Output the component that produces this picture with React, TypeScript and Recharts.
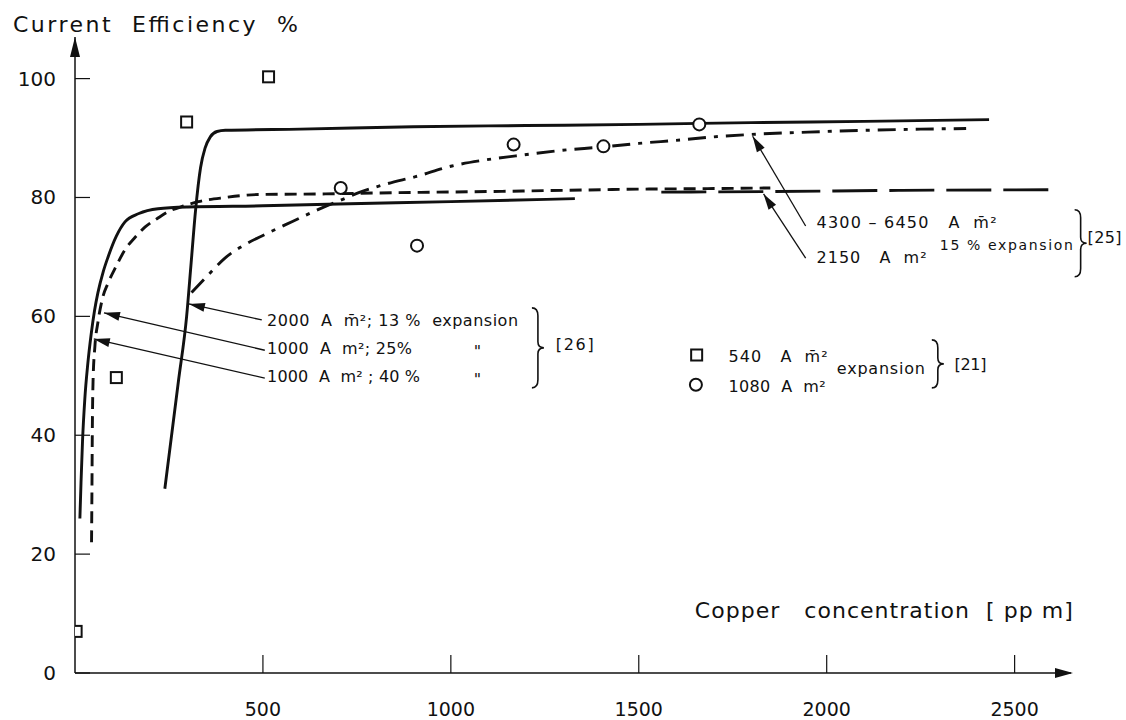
import React from "react";
import {
  ComposedChart,
  Line,
  Scatter,
  XAxis,
  YAxis,
  ReferenceDot,
  ReferenceLine,
} from "recharts";

type Pt = { x: number; y: number };
const pts = (a: number[][]): Pt[] => a.map(([x, y]) => ({ x, y }));

const xTicks = [500, 1000, 1500, 2000, 2500];
const yTicks = [0, 20, 40, 60, 80, 100];

// 1000 A m-2 ; 40 % expansion (solid, left)
const solid1000 = pts([
  [13, 26], [16, 32], [20, 39], [26, 46], [34, 52], [43, 57], [52, 61], [61, 64],
  [75, 67.5], [88, 70], [110, 73.5], [133, 75.9], [170, 77.3], [221, 78.1],
  [300, 78.4], [500, 78.6], [700, 78.9], [1000, 79.3], [1330, 79.8],
]);

// 1000 A m-2 ; 25 % expansion (short dashes)
const dashed1000 = pts([
  [44, 22], [45, 30], [46, 40], [48, 49], [53, 55], [61, 59], [73, 63], [88, 65.6],
  [110, 68.5], [133, 71.2], [160, 73.3], [186, 75], [220, 76.5], [248, 77.6],
  [290, 78.6], [328, 79.3], [400, 80], [488, 80.5], [666, 80.6], [843, 80.8],
  [1100, 81], [1300, 81.2], [1500, 81.4], [1700, 81.5], [1850, 81.6],
]);

// 2000 A m-2 ; 13 % expansion (steep solid)
const solid2000 = pts([
  [239, 31], [257, 40], [275, 49], [297, 60], [309, 69], [321, 78], [334, 85],
  [346, 88.3], [360, 90.2], [378, 91.1], [400, 91.3], [600, 91.5], [900, 91.9],
  [1200, 92.1], [1500, 92.3], [1800, 92.6], [2100, 92.8], [2432, 93.1],
]);

// 4300 - 6450 A m-2 (dash-dot)
const dashDot4300 = pts([
  [310, 64], [355, 67], [399, 69.8], [450, 72], [506, 73.8], [580, 76], [648, 78],
  [709, 79.6], [755, 80.8], [830, 82.3], [906, 83.5], [1003, 85.3], [1090, 86.3],
  [1173, 87], [1290, 87.9], [1403, 88.5], [1500, 89.1], [1616, 89.7], [1700, 90.2],
  [1797, 90.6], [1950, 91], [2100, 91.3], [2250, 91.5], [2371, 91.6],
]);

// 2150 A m-2 (long dashes)
const longDash2150 = pts([
  [1560, 80.9], [1850, 81.0], [2200, 81.2], [2600, 81.3],
]);

// [21] points
const squares540 = pts([[3, 7], [110, 49.7], [297, 92.7], [515, 100.3]]);
const circles1080 = pts([[707, 81.6], [910, 71.9], [1167, 88.9], [1406, 88.6], [1661, 92.3]]);

// annotation texts (baseline start in data units, w = printed width, s = size)
const notes = [
  { x: 511, y: 58.4, t: "2000  A  m\u0304\u00b2; 13 %  expansion", w: 251, s: 16 },
  { x: 511, y: 53.7, t: "1000  A  m\u00b2; 25%", w: 145, s: 16 },
  { x: 1061, y: 53.2, t: "\"", w: 0, s: 16 },
  { x: 511, y: 49.0, t: "1000  A  m\u00b2 ; 40 %", w: 153, s: 16 },
  { x: 1061, y: 48.5, t: "\"", w: 0, s: 16 },
  { x: 1279, y: 54.3, t: "[26]", w: 38, s: 16 },
  { x: 1973, y: 74.8, t: "4300 \u2013 6450   A  m\u0304\u00b2", w: 180, s: 16 },
  { x: 1973, y: 68.9, t: "2150   A  m\u00b2", w: 110, s: 16 },
  { x: 2301, y: 71.2, t: "15 % expansion", w: 133, s: 14 },
  { x: 2694, y: 72.3, t: "[25]", w: 34, s: 16 },
  { x: 1739, y: 52.3, t: "540   A  m\u0304\u00b2", w: 99, s: 16 },
  { x: 1739, y: 47.3, t: "1080  A  m\u00b2", w: 97, s: 16 },
  { x: 2027, y: 50.3, t: "expansion", w: 88, s: 16 },
  { x: 2340, y: 51.0, t: "[21]", w: 32, s: 16 },
];

// leader arrows: [from, to(tip)]
const leaders = [
  [[497, 59.4], [303, 62.1]],
  [[505, 54.3], [77, 60.6]],
  [[505, 49.6], [50, 56.2]],
  [[1944, 75.2], [1803, 90.3]],
  [[1944, 69.8], [1832, 80.6]],
];

const braces = [
  { x: 1229, y: 54.7, h: 80 },
  { x: 2673, y: 72.3, h: 67 },
  { x: 2293, y: 52.0, h: 48 },
];

const FONT = "DejaVu Sans";
const INK = "#111";

const XTick = (p: any) => (
  <g>
    <line x1={p.x} y1={p.y} x2={p.x} y2={p.y - 18} stroke={INK} strokeWidth={1.2} />
    <text x={p.x} y={p.y + 43} textAnchor="middle" fontSize={19} fontFamily={FONT} fill={INK}>
      {p.payload.value}
    </text>
  </g>
);

const YTick = (p: any) => (
  <g>
    <line x1={p.x} y1={p.y} x2={p.x + 15} y2={p.y} stroke={INK} strokeWidth={1.2} />
    <text x={p.x - 19} y={p.y + 7} textAnchor="end" fontSize={20} fontFamily={FONT} fill={INK}>
      {p.payload.value}
    </text>
  </g>
);

const Square = (p: any) => (
  <rect x={p.cx - 5.5} y={p.cy - 5.5} width={11} height={11} fill="#fff" stroke={INK} strokeWidth={2} />
);
const Circle = (p: any) => <circle cx={p.cx} cy={p.cy} r={6} fill="#fff" stroke={INK} strokeWidth={2} />;

const Leader = (p: any) => {
  const { x1, y1, x2, y2 } = p;
  const a = Math.atan2(y2 - y1, x2 - x1);
  const bx = x2 - 16 * Math.cos(a);
  const by = y2 - 16 * Math.sin(a);
  const w = 4.5;
  const tri = `${x2},${y2} ${bx + w * Math.sin(a)},${by - w * Math.cos(a)} ${bx - w * Math.sin(a)},${by + w * Math.cos(a)}`;
  return (
    <g>
      <line x1={x1} y1={y1} x2={x2} y2={y2} stroke={INK} strokeWidth={1.3} />
      <polygon points={tri} fill={INK} />
    </g>
  );
};

const brace = (h: number) => (p: any) => {
  const { cx, cy } = p;
  const t = cy - h / 2;
  const b = cy + h / 2;
  const d = `M${cx - 5},${t} Q${cx + 1},${t} ${cx + 1},${t + 8} L${cx + 1},${cy - 6} Q${cx + 1},${cy} ${cx + 7},${cy} Q${cx + 1},${cy} ${cx + 1},${cy + 6} L${cx + 1},${b - 8} Q${cx + 1},${b} ${cx - 5},${b}`;
  return <path d={d} fill="none" stroke={INK} strokeWidth={1.6} />;
};

const label = (t: string, size = 16, w = 0) => (p: any) => (
  <text
    x={p.cx}
    y={p.cy}
    fontSize={size}
    fontFamily={FONT}
    fill={INK}
    style={{ whiteSpace: "pre", fontFamily: FONT }}
    {...(w ? { textLength: w, lengthAdjust: "spacing" } : {})}
  >
    {t}
  </text>
);

const line = (data: Pt[], dash?: string) => (
  <Line
    data={data}
    dataKey="y"
    type="monotone"
    stroke={INK}
    strokeWidth={2.9}
    strokeDasharray={dash}
    dot={false}
    activeDot={false}
    isAnimationActive={false}
  />
);

export default function App() {
  return (
    <div style={{ position: "absolute", left: 0, top: 0, width: 1126, height: 720, background: "#fff" }}>
      <ComposedChart width={1126} height={720} margin={{ top: 37, right: 55, bottom: 7, left: 5 }}>
        <XAxis
          dataKey="x"
          type="number"
          domain={[0, 2650]}
          ticks={xTicks}
          interval={0}
          tickSize={0}
          tickMargin={0}
          tick={XTick}
          height={40}
          axisLine={{ stroke: INK, strokeWidth: 1.5 }}
          allowDataOverflow
        />
        <YAxis
          type="number"
          domain={[0, 107]}
          ticks={yTicks}
          interval={0}
          tickSize={0}
          tickMargin={0}
          tick={YTick}
          width={70}
          axisLine={{ stroke: INK, strokeWidth: 1.5 }}
          allowDataOverflow
        />
        {line(solid1000)}
        {line(dashed1000, "12 7")}
        {line(solid2000)}
        {line(dashDot4300, "18 8 4 8")}
        {line(longDash2150, "45 12")}
        <Scatter data={squares540} dataKey="y" shape={Square} isAnimationActive={false} />
        <Scatter data={circles1080} dataKey="y" shape={Circle} isAnimationActive={false} />

        {/* axis arrows */}
        <ReferenceDot x={2650} y={0} ifOverflow="visible"
          shape={(p: any) => <polygon points={`${p.cx + 2},${p.cy} ${p.cx - 16},${p.cy - 5} ${p.cx - 16},${p.cy + 5}`} fill={INK} />} />
        <ReferenceDot x={0} y={107} ifOverflow="visible"
          shape={(p: any) => <polygon points={`${p.cx},${p.cy} ${p.cx - 5},${p.cy + 20} ${p.cx + 5},${p.cy + 20}`} fill={INK} />} />

        {leaders.map(([a, b], i) => (
          <ReferenceLine key={`l${i}`} ifOverflow="visible"
            segment={[{ x: a[0], y: a[1] }, { x: b[0], y: b[1] }]} shape={Leader} />
        ))}
        {braces.map((b, i) => (
          <ReferenceDot key={`b${i}`} x={b.x} y={b.y} ifOverflow="visible" shape={brace(b.h)} />
        ))}
        {notes.map((n, i) => (
          <ReferenceDot key={`n${i}`} x={n.x} y={n.y} ifOverflow="visible" shape={label(n.t, n.s, n.w)} />
        ))}
        <ReferenceDot x={1654} y={53.5} ifOverflow="visible" shape={Square} />
        <ReferenceDot x={1652} y={48.5} ifOverflow="visible" shape={Circle} />

        {/* axis titles */}
        <ReferenceDot x={-165} y={107.8} ifOverflow="visible"
          shape={label("Current  Efficiency  %", 22, 285)} />
        <ReferenceDot x={1649} y={9.25} ifOverflow="visible"
          shape={label("Copper   concentration  [ pp m]", 22, 378)} />
      </ComposedChart>
    </div>
  );
}
